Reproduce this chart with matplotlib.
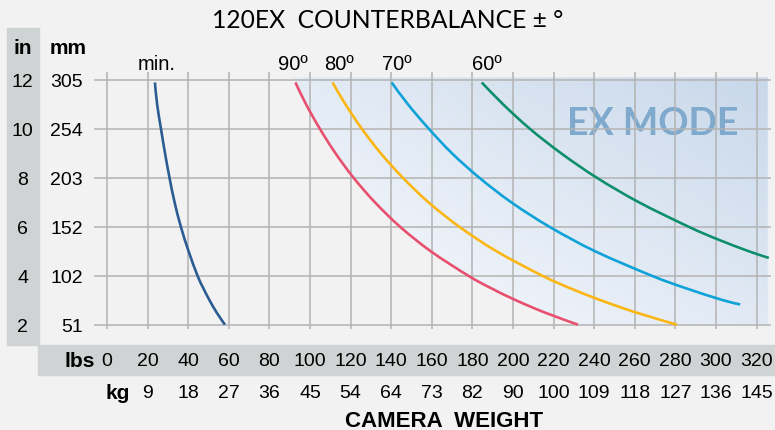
import matplotlib
matplotlib.use('Agg')
import matplotlib.pyplot as plt
import numpy as np
from matplotlib.patches import Rectangle, PathPatch
from matplotlib.path import Path

# ---------------- data ----------------
lbs_ticks = [0, 20, 40, 60, 80, 100, 120, 140, 160, 180, 200, 220, 240, 260, 280, 300, 320]
kg_labels = ['9', '18', '27', '36', '45', '54', '64', '73', '82', '90', '100',
             '109', '118', '127', '136', '145']
in_ticks = [2, 4, 6, 8, 10, 12]
mm_labels = ['51', '102', '152', '203', '254', '305']

# camera weight (lbs) vs counterbalance height (in)
min_lbs = [23.6, 24.7, 26.6, 28.6, 30.8, 33.3, 36.4, 40.2, 44.6, 47.4, 50.5, 54.0, 58.1]
min_in = [11.9, 11.0, 10.0, 9.0, 8.0, 7.0, 6.0, 5.0, 4.0, 3.5, 3.0, 2.5, 2.0]

d90_lbs = [92.8, 98.1, 104.9, 112.6, 121.5, 132.0, 144.4, 159.5, 178.0, 189.0, 201.4, 215.6, 232.0]
d90_in = [11.9, 11.0, 10.0, 9.0, 8.0, 7.0, 6.0, 5.0, 4.0, 3.5, 3.0, 2.5, 2.0]

d80_lbs = [111.1, 117.5, 125.6, 134.9, 145.8, 158.4, 173.6, 191.9, 214.5, 227.9, 243.2, 260.6, 280.7]
d80_in = [11.9, 11.0, 10.0, 9.0, 8.0, 7.0, 6.0, 5.0, 4.0, 3.5, 3.0, 2.5, 2.0]

d70_lbs = [140.2, 148.3, 158.6, 170.0, 183.5, 199.2, 218.0, 240.5, 268.4, 284.8, 303.5, 311.9]
d70_in = [11.9, 11.0, 10.0, 9.0, 8.0, 7.0, 6.0, 5.0, 4.0, 3.5, 3.0, 2.83]

d60_lbs = [184.6, 195.2, 208.4, 223.8, 241.4, 262.1, 286.6, 300.5, 316.2, 326.0]
d60_in = [11.9, 11.0, 10.0, 9.0, 8.0, 7.0, 6.0, 5.5, 5.0, 4.73]

curve_labels = ['min.', '90º', '80º', '70º', '60º']

# ---------------- helpers ----------------


def smooth_segments(xs, ys):
    """Catmull-Rom through the read points, as cubic Bezier path pieces."""
    P = np.column_stack([xs, ys]).astype(float)
    n = len(P)
    verts = [P[0]]
    codes = [Path.MOVETO]
    for i in range(n - 1):
        p0 = P[i - 1] if i > 0 else P[i]
        p1 = P[i]
        p2 = P[i + 1]
        p3 = P[i + 2] if i + 2 < n else P[i + 1]
        verts += [p1 + (p2 - p0) / 6.0, p2 - (p3 - p1) / 6.0, p2]
        codes += [Path.CURVE4] * 3
    return verts, codes


# ---------------- figure ----------------
W, H = 775, 431
fig = plt.figure(figsize=(W / 100, H / 100), dpi=100)
fig.patch.set_facecolor('#f2f2f2')


def fx(px):
    return px / W


def fy(py):
    return 1 - py / H


X0PX, XS = 107.0, 2.03
Y12PX, YS = 81.0, 24.47
xlim = (-10, 328)
ylim = (1.5, 12.5)
left = X0PX + XS * xlim[0]
right = X0PX + XS * xlim[1]
top = Y12PX + (12 - ylim[1]) * YS
bottom = Y12PX + (12 - ylim[0]) * YS
ax = fig.add_axes([left / W, 1 - bottom / H, (right - left) / W, (bottom - top) / H])
ax.axis('off')

band = '#d0d3d4'
fig.patches.append(Rectangle((fx(7), fy(345.7)), (39 - 7) / W, (345.7 - 29.3) / H,
                             transform=fig.transFigure, color=band, zorder=0))
fig.patches.append(Rectangle((fx(38.3), fy(376.3)), (W - 38.3) / W, (376.3 - 345.7) / H,
                             transform=fig.transFigure, color=band, zorder=0))

# EX MODE gradient area (right of 90° curve)
gx = np.linspace(85, 326, 400)
gy = np.linspace(2, 12.11, 300)
GX, GY = np.meshgrid(gx, gy)
t = np.clip(((GX - 120) / 205 + (GY - 2) / 10) / 2, 0, 1)
c0 = np.array([0.975, 0.982, 0.995])
c1 = np.array([0.785, 0.847, 0.918])
img = c0 + t[..., None] * (c1 - c0)
im = ax.imshow(img, extent=(85, 326, 2, 12.11), origin='lower', aspect='auto',
               zorder=1, interpolation='bilinear')
rv, rc = smooth_segments(d90_lbs, d90_in)
cverts = [(91.8, 12.11)] + rv + [(325.5, 2.0), (325.5, 12.11), (91.8, 12.11)]
ccodes = [Path.MOVETO, Path.LINETO] + rc[1:] + [Path.LINETO, Path.LINETO, Path.CLOSEPOLY]
clip = PathPatch(Path(cverts, ccodes), transform=ax.transData, facecolor='none', edgecolor='none')
ax.add_patch(clip)
im.set_clip_path(clip)

ax.text(269, 10.24, 'EX MODE', fontsize=27, fontweight='bold', color='#7fa9cd',
        ha='center', va='center', zorder=1.5, family=['Lato', 'DejaVu Sans'])

gc = '#b3b3b3'
ax.hlines(in_ticks, -6.4, 327, color=gc, lw=1.1, zorder=2)
ax.vlines(lbs_ticks, 1.82, 12.33, color=gc, lw=1.1, zorder=2)

lw = 1.9
for xs, ys, col in [(min_lbs, min_in, '#2b5d94'), (d90_lbs, d90_in, '#e8506f'),
                    (d80_lbs, d80_in, '#fbb614'), (d70_lbs, d70_in, '#0fa2d8'),
                    (d60_lbs, d60_in, '#0e8f6c')]:
    v, c = smooth_segments(xs, ys)
    ax.add_patch(PathPatch(Path(v, c), facecolor='none', edgecolor=col, lw=lw,
                           capstyle='butt', zorder=3))

ax.set_xlim(xlim)
ax.set_ylim(ylim)

# ---------------- texts ----------------
reg = ['Liberation Sans', 'DejaVu Sans']
tick_fs = 14

fig.text(fx(388), fy(21), '120EX  COUNTERBALANCE ± °', fontsize=17.7, ha='center', va='center',
         family=['Lato', 'DejaVu Sans'])

fig.text(fx(23), fy(48), 'in', fontsize=15, fontweight='bold', ha='center', va='center', family=reg)
fig.text(fx(68.5), fy(48), 'mm', fontsize=15, fontweight='bold', ha='center', va='center', family=reg)

for v, mm in zip(in_ticks, mm_labels):
    ypx = Y12PX + (12 - v) * YS + 1.5
    fig.text(fx(22.5), fy(ypx), str(v), fontsize=tick_fs, ha='center', va='center', family=reg)
    fig.text(fx(83), fy(ypx), mm, fontsize=tick_fs, ha='right', va='center', family=reg)

fig.text(fx(95), fy(362), 'lbs', fontsize=15, fontweight='bold', ha='right', va='center', family=reg)
fig.text(fx(117.5), fy(393.5), 'kg', fontsize=15, fontweight='bold', ha='center', va='center', family=reg)
for v in lbs_ticks:
    xpx = X0PX + XS * v
    fig.text(fx(xpx), fy(362), str(v), fontsize=tick_fs, ha='center', va='center', family=reg)
for v, kg in zip(lbs_ticks[1:], kg_labels):
    xpx = X0PX + XS * v
    fig.text(fx(xpx), fy(393.5), kg, fontsize=tick_fs, ha='center', va='center', family=reg)

fig.text(fx(444), fy(421.5), 'CAMERA  WEIGHT', fontsize=16, fontweight='bold',
         ha='center', va='center', family=reg)

label_x = [157, 293, 339, 397, 486.7]
for lab, xpx in zip(curve_labels, label_x):
    fig.text(fx(xpx), fy(64), lab, fontsize=14.5, ha='center', va='center', family=reg)

fig.savefig('out.png', dpi=100, facecolor=fig.get_facecolor())
